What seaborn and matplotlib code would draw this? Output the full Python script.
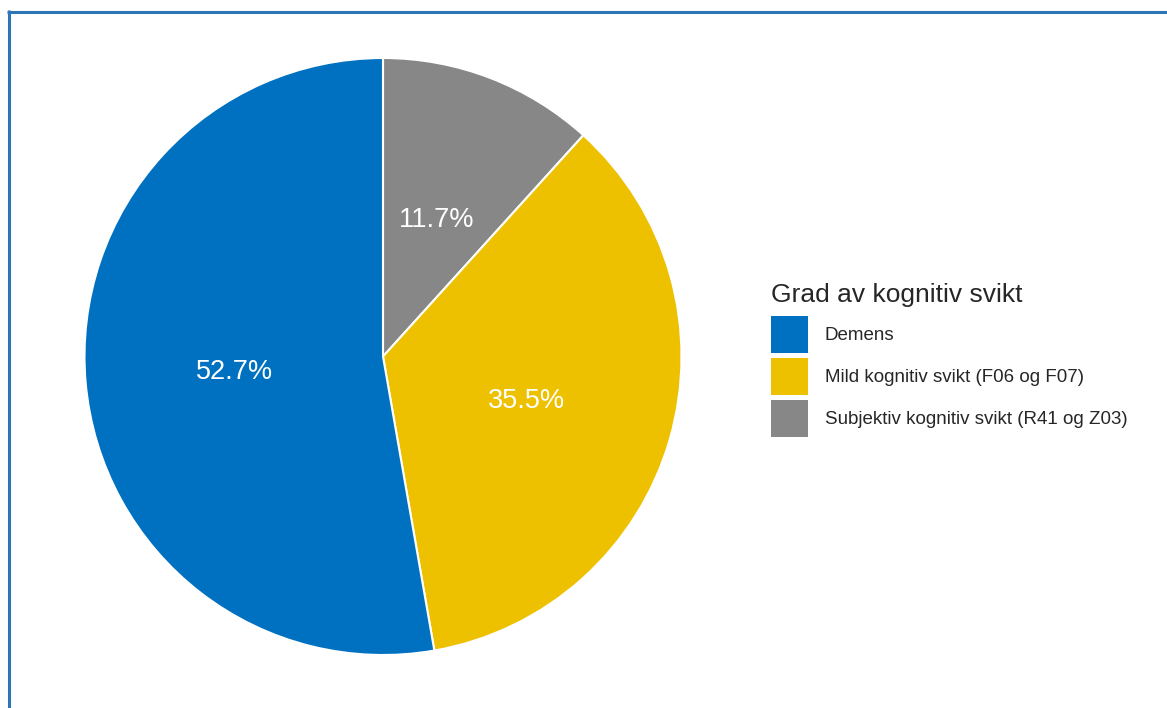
import matplotlib
matplotlib.use("Agg")
import matplotlib.pyplot as plt
from matplotlib.patches import Patch
from matplotlib.lines import Line2D
import seaborn as sns

categories = ["Demens", "Mild kognitiv svikt (F06 og F07)", "Subjektiv kognitiv svikt (R41 og Z03)"]
values = [52.7, 35.5, 11.7]
colors = ["#0070C0", "#EDC000", "#878787"]
legend_title = "Grad av kognitiv svikt"

sns.set_theme(style="white")
plt.rcParams["font.family"] = ["Liberation Sans", "DejaVu Sans"]

W, H = 1167, 708
fig = plt.figure(figsize=(W / 100, H / 100), dpi=100)
fig.patch.set_facecolor("white")

cx, cy, r = 383, 356.5, 298.5
ax = fig.add_axes([(cx - r) / W, (H - cy - r) / H, 2 * r / W, 2 * r / H])

# draw in ggplot order: gray first clockwise from top, then yellow, then blue
order = [2, 1, 0]
wedges, texts = ax.pie(
    [values[i] for i in order],
    colors=[colors[i] for i in order],
    labels=[f"{values[i]:.1f}%" for i in order],
    labeldistance=0.5,
    startangle=90,
    counterclock=False,
    radius=1,
    wedgeprops=dict(edgecolor="white", linewidth=1.5),
    textprops=dict(color="white", fontsize=19.5, ha="center", va="center_baseline"),
)
ax.set_xlim(-1.0, 1.0)
ax.set_ylim(-1.0, 1.0)
ax.axis("off")

handles = [Patch(facecolor=c, edgecolor="none") for c in colors]
leg = fig.legend(
    handles, categories,
    title=legend_title,
    loc="upper left",
    bbox_to_anchor=(771 / W, 1 - 283 / H),
    frameon=False,
    fontsize=13.5,
    title_fontsize=19,
    handlelength=1.97,
    handleheight=2.66,
    handletextpad=0.9,
    labelspacing=0.27,
    borderpad=0,
    borderaxespad=0,
    alignment="left",
)
leg._legend_box.sep = 6.5

# screenshot frame: top and left blue lines
fig.add_artist(Line2D([8.5 / W, 8.5 / W], [0, 1 - 10 / H], color="#2E75B6", linewidth=2.2,
                      transform=fig.transFigure, solid_capstyle="butt"))
fig.add_artist(Line2D([7.0 / W, 1], [1 - 11.5 / H, 1 - 11.5 / H], color="#2E75B6", linewidth=2.2,
                      transform=fig.transFigure, solid_capstyle="butt"))

fig.savefig("out.png", dpi=100, facecolor="white")
